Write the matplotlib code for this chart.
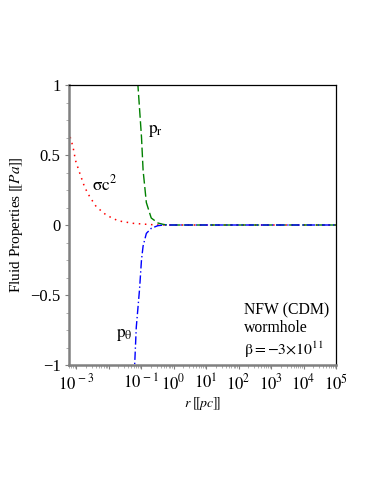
import numpy as np
import matplotlib
matplotlib.use("Agg")
import matplotlib.pyplot as plt
from matplotlib.ticker import FixedLocator, LogLocator, MultipleLocator, NullFormatter

plt.rcParams['font.family'] = ['Liberation Serif', 'DejaVu Serif', 'DejaVu Sans']
plt.rcParams['mathtext.fontset'] = 'stix'

# curves (log10 r, value)
sig_logr = [-3.25, -3.20, -3.10, -3.02, -2.89, -2.74, -2.58, -2.38, -2.07, -1.71, -1.25, -0.84, -0.5, 5.0]
sig_val = [0.67, 0.64, 0.56, 0.46, 0.37, 0.27, 0.20, 0.13, 0.07, 0.03, 0.012, 0.005, 0.0, 0.0]

pr_logr = [-1.16, -1.10, -0.99, -0.94, -0.84, -0.69, -0.48, -0.33, -0.2, 5.0]
pr_val = [1.4, 1.0, 0.63, 0.39, 0.16, 0.05, 0.014, 0.005, 0.0, 0.0]

pt_logr = [-1.25, -1.20, -1.15, -1.05, -0.99, -0.94, -0.84, -0.69, -0.49, -0.3, 5.0]
pt_val = [-1.4, -1.0, -0.73, -0.46, -0.25, -0.15, -0.06, -0.024, -0.005, 0.0, 0.0]

xtick_pos = [1e-3, 1e-2, 1e-1, 1e0, 1e1, 1e2, 1e3, 1e4, 1e5]
xtick_lab = ['$10^{\\,-3}$', '', '$10^{\\,-1}$', '$10^{0}$', '$10^{1}$',
             '$10^{2}$', '$10^{3}$', '$10^{4}$', '$10^{5}$']
ytick_pos = [-1, -0.5, 0, 0.5, 1]
ytick_lab = ['\u22121', '\u22120.5', '0', '0.5', '1']

fig = plt.figure(figsize=(3.74, 4.84), dpi=100)
ax = fig.add_axes([69 / 374, 1 - 365 / 484, (336 - 69) / 374, (365 - 85) / 484])

ax.plot(10 ** np.array(sig_logr), sig_val, color='red', lw=1.1,
        linestyle=(0, (1, 3)))
ax.plot(10 ** np.array(pr_logr), pr_val, color='green', lw=1.0,
        linestyle=(0, (7, 2.5)))
ax.plot(10 ** np.array(pt_logr), pt_val, color='blue', lw=1.0,
        linestyle=(0, (6, 2, 1, 2)))

ax.set_xscale('log')
ax.set_xlim(6e-4, 1e5)
ax.set_ylim(-1, 1)

ax.xaxis.set_major_locator(FixedLocator(xtick_pos))
ax.set_xticklabels(xtick_lab)
ax.xaxis.set_minor_locator(LogLocator(base=10, subs=np.arange(2, 10), numticks=20))
ax.xaxis.set_minor_formatter(NullFormatter())
ax.set_yticks(ytick_pos)
ax.set_yticklabels(ytick_lab)
ax.yaxis.set_minor_locator(MultipleLocator(0.125))

ax.tick_params(axis='both', which='major', length=3, width=0.8, color='#808080',
               labelsize=12, direction='out', pad=3)
ax.tick_params(axis='both', which='minor', length=2, width=0.6, color='#a0a0a0',
               direction='out')

for s in ['left', 'bottom']:
    ax.spines[s].set_color('#808080')
    ax.spines[s].set_linewidth(1.8)
for s in ['top', 'right']:
    ax.spines[s].set_color('black')
    ax.spines[s].set_linewidth(0.9)

ax.text(0.16, 0.66, r'$\mathrm{p_r}$', fontsize=12.5)
ax.text(0.003, 0.245, r'$\mathrm{\sigma c^2}$', fontsize=12.5)
ax.text(0.0165, -0.80, r'$\mathrm{p_\theta}$', fontsize=12.5)

ax.text(150, -0.55, 'NFW (CDM)\nwormhole\n$\\mathrm{\\beta = {-}3{\\times}10^{11}}$',
        fontsize=11.3, va='top', ha='left', linespacing=1.2)

ax.set_ylabel(r'Fluid Properties $[\![Pa]\!]$', fontsize=11, labelpad=4)
ax.set_xlabel(r'$r\;[\![pc]\!]$', fontsize=10, labelpad=1)

fig.savefig('out.png', dpi=100)
